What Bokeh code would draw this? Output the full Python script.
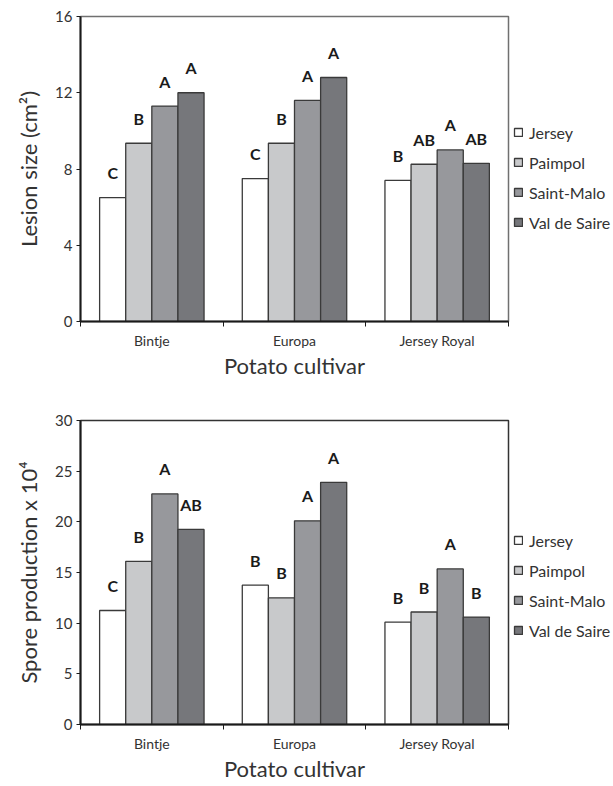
from bokeh.plotting import figure
from bokeh.layouts import column
from bokeh.models import FixedTicker, Legend, LegendItem, ColumnDataSource
from bokeh.core.properties import value
from bokeh.embed import file_html
from bokeh.resources import INLINE

FONT = "Lato"

cultivars = ["Bintje", "Europa", "Jersey Royal"]
isolates = ["Jersey", "Paimpol", "Saint-Malo", "Val de Saire"]
colors = ["#ffffff", "#c8c9cb", "#97989c", "#76777b"]

# Lesion size (cm2)
lesion_jersey = [6.5, 7.5, 7.4]
lesion_paimpol = [9.35, 9.35, 8.25]
lesion_saintmalo = [11.3, 11.6, 9.0]
lesion_valdesaire = [12.0, 12.8, 8.3]
lesion_letters_jersey = ["C", "C", "B"]
lesion_letters_paimpol = ["B", "B", "AB"]
lesion_letters_saintmalo = ["A", "A", "A"]
lesion_letters_valdesaire = ["A", "A", "AB"]
lesion_ticks = [0, 4, 8, 12, 16]

# Spore production x 10^4
spore_jersey = [11.25, 13.75, 10.1]
spore_paimpol = [16.1, 12.5, 11.1]
spore_saintmalo = [22.75, 20.1, 15.35]
spore_valdesaire = [19.25, 23.9, 10.6]
spore_letters_jersey = ["C", "B", "B"]
spore_letters_paimpol = ["B", "B", "B"]
spore_letters_saintmalo = ["A", "A", "A"]
spore_letters_valdesaire = ["AB", "A", "B"]
spore_ticks = [0, 5, 10, 15, 20, 25, 30]

BAR_W = 0.183
OFFSETS = [-1.5 * BAR_W, -0.5 * BAR_W, 0.5 * BAR_W, 1.5 * BAR_W]


def make_chart(series, letters, yticks, ylabel, border_top, border_bottom, frame_h, legend_vy, outline_color):
    n = len(cultivars)
    p = figure(frame_width=428, frame_height=frame_h,
               x_range=(0, n), y_range=(0, yticks[-1]),
               output_backend="svg", toolbar_location=None,
               min_border_left=80, min_border_right=105,
               min_border_top=border_top, min_border_bottom=border_bottom)
    p.background_fill_color = "white"
    p.border_fill_color = "white"
    p.outline_line_color = outline_color
    p.outline_line_width = 1.5
    p.xgrid.visible = False
    p.ygrid.visible = False

    items = []
    for k, (vals, labs) in enumerate(zip(series, letters)):
        xs = [i + 0.5 + OFFSETS[k] for i in range(n)]
        src = ColumnDataSource(dict(x=xs, top=vals, lab=labs))
        r = p.vbar(x="x", top="top", bottom=0, width=BAR_W, source=src,
                   fill_color=colors[k], line_color="#3a3a3a", line_width=1.3)
        p.text(x="x", y="top", text="lab", source=src, y_offset=-25,
               text_align="center", text_baseline="middle",
               text_font=value(FONT), text_font_size="16px", text_font_style="bold",
               text_color="#1a1a1a")
        items.append(LegendItem(label=isolates[k], renderers=[r]))

    # y axis
    ya = p.yaxis[0]
    ya.ticker = FixedTicker(ticks=yticks)
    ya.axis_line_color = "#1a1a1a"
    ya.axis_line_width = 2
    ya.major_tick_out = 4
    ya.major_tick_in = 0
    ya.major_tick_line_color = "#1a1a1a"
    ya.major_tick_line_width = 1
    ya.minor_tick_line_color = None
    ya.major_label_standoff = 4
    ya.major_label_text_font = FONT
    ya.major_label_text_font_size = "15px"
    ya.major_label_text_color = "#333333"
    ya.axis_label = ylabel
    ya.axis_label_text_font = FONT
    ya.axis_label_text_font_size = "22px"
    ya.axis_label_text_font_style = "normal"
    ya.axis_label_text_color = "#333333"
    ya.axis_label_standoff = 10

    # x axis
    xa = p.xaxis[0]
    xa.ticker = FixedTicker(ticks=[i + 0.5 for i in range(n)],
                            minor_ticks=[float(i) for i in range(n + 1)])
    xa.major_label_overrides = {i + 0.5: c for i, c in enumerate(cultivars)}
    xa.axis_line_color = "#1a1a1a"
    xa.axis_line_width = 2
    xa.major_tick_line_color = None
    xa.major_tick_out = 0
    xa.major_tick_in = 0
    xa.minor_tick_line_color = "#1a1a1a"
    xa.minor_tick_line_width = 1
    xa.minor_tick_out = 5
    xa.minor_tick_in = 0
    xa.major_label_standoff = 5
    xa.major_label_text_font = FONT
    xa.major_label_text_font_size = "14px"
    xa.major_label_text_color = "#333333"
    xa.axis_label = "Potato cultivar"
    xa.axis_label_text_font = FONT
    xa.axis_label_text_font_size = "22px"
    xa.axis_label_text_font_style = "normal"
    xa.axis_label_text_color = "#333333"
    xa.axis_label_standoff = 0

    legend = Legend(items=items, location=(5, legend_vy), orientation="vertical",
                    glyph_width=10, glyph_height=10, label_standoff=6,
                    label_height=20, spacing=10, padding=0, margin=0,
                    border_line_color=None, background_fill_alpha=0,
                    label_text_font=FONT, label_text_font_size="16px",
                    label_text_color="#333333")
    p.add_layout(legend, "right")
    return p


p1 = make_chart([lesion_jersey, lesion_paimpol, lesion_saintmalo, lesion_valdesaire],
                [lesion_letters_jersey, lesion_letters_paimpol, lesion_letters_saintmalo, lesion_letters_valdesaire],
                lesion_ticks, "Lesion size (cm²)", 16, 62, 305, 89, "#707070")
p2 = make_chart([spore_jersey, spore_paimpol, spore_saintmalo, spore_valdesaire],
                [spore_letters_jersey, spore_letters_paimpol, spore_letters_saintmalo, spore_letters_valdesaire],
                spore_ticks, "Spore production x 10⁴", 37, 62, 304, 84, "#333333")

layout = column(p1, p2, spacing=0)
open("out.html", "w").write(file_html(layout, INLINE))
